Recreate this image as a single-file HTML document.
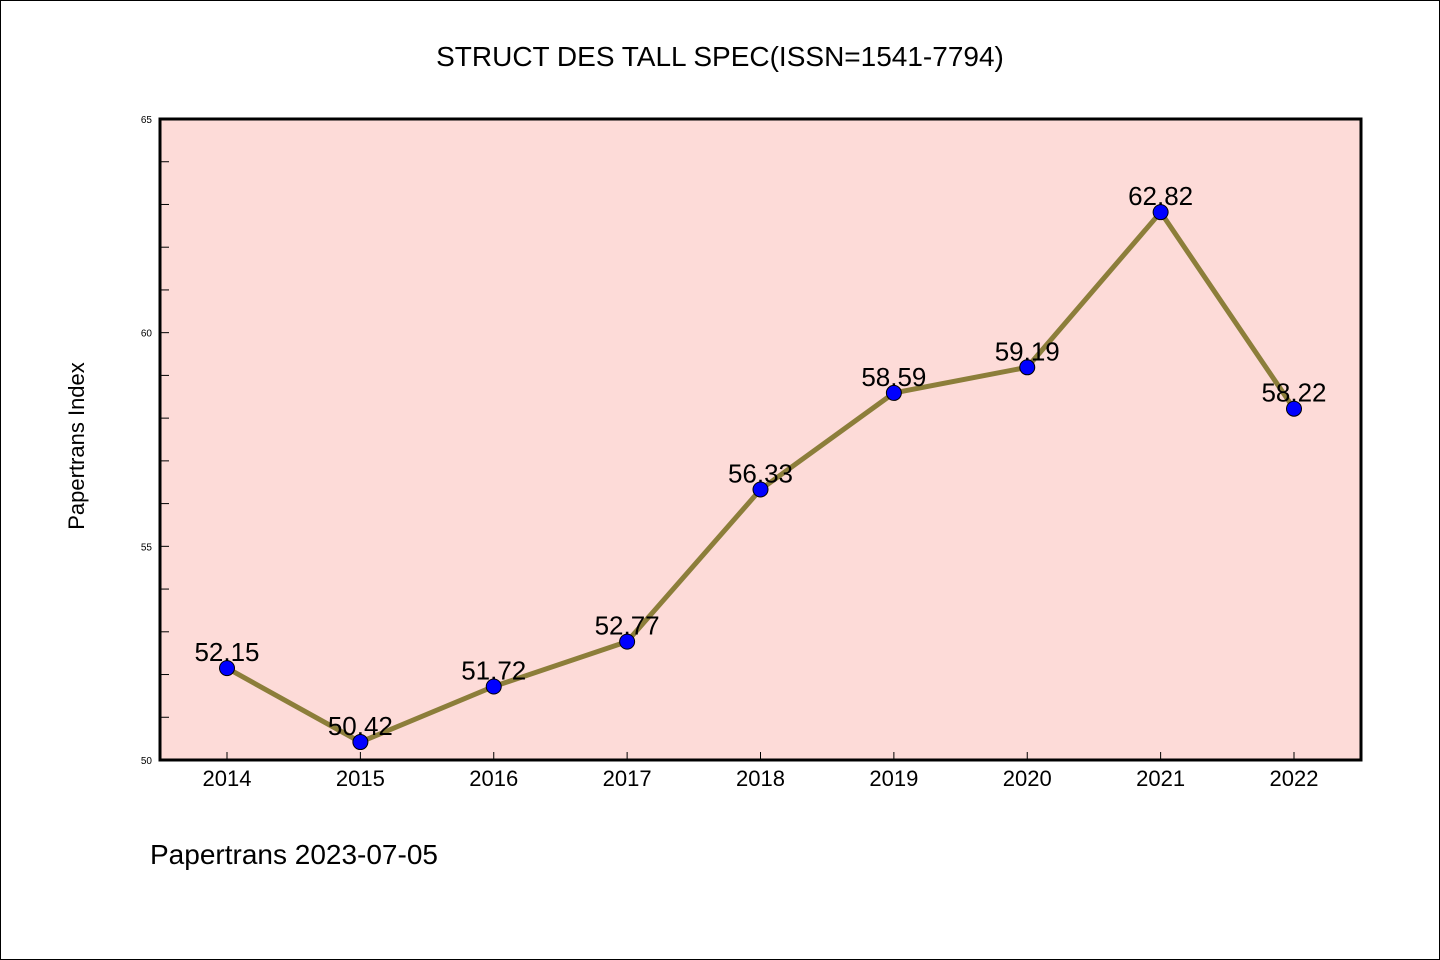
<!DOCTYPE html>
<html><head><meta charset="utf-8"><style>
html,body{margin:0;padding:0;background:#fff}
svg{display:block;font-family:"WenQuanYi Zen Hei","Liberation Sans",sans-serif}
</style></head><body>
<svg id="chart" width="1440" height="960" xmlns="http://www.w3.org/2000/svg">
<rect x="0.5" y="0.5" width="1439" height="959" fill="#fff" stroke="#000" stroke-width="1"/>
<text x="720" y="66" font-size="28" text-anchor="middle">STRUCT DES TALL SPEC(ISSN=1541-7794)</text>
<rect x="160" y="119" width="1201" height="641" fill="#fddbd8"/>
<g id="axes"></g>
<g id="series"></g>
<rect x="160" y="119" width="1201" height="641" fill="none" stroke="#000" stroke-width="3"/>
<text transform="translate(84,446) rotate(-90)" font-size="22" text-anchor="middle">Papertrans Index</text>
<text x="150" y="864" font-size="28">Papertrans 2023-07-05</text>
</svg>
<script>
const categories=["2014","2015","2016","2017","2018","2019","2020","2021","2022"];
const values=[52.15,50.42,51.72,52.77,56.33,58.59,59.19,62.82,58.22];
const valueLabels=["52.15","50.42","51.72","52.77","56.33","58.59","59.19","62.82","58.22"];
const yTicks=[50,55,60,65];
const yMin=50,yMax=65;
const NS="http://www.w3.org/2000/svg";
const L=160,R=1361,T=119,B=760;
function xs(i){return 227+i*(1294-227)/(categories.length-1);}
function ys(v){return B-(v-yMin)/(yMax-yMin)*(B-T);}
function mk(tag,attrs,parent){const e=document.createElementNS(NS,tag);for(const k in attrs)e.setAttribute(k,attrs[k]);parent.appendChild(e);return e;}
const ax=document.getElementById('axes');
for(let v=yMin;v<=yMax;v++){
  const t=mk('line',{x1:L,x2:L+9,y1:ys(v),y2:ys(v),stroke:'#000','stroke-width':1},ax);
  
  
}
yTicks.forEach(v=>{
  const t=mk('text',{x:L-8,y:ys(v)+4,'font-size':10,'text-anchor':'end'},ax);
  t.textContent=v;
  
  
});
categories.forEach((c,i)=>{
  const t=mk('line',{x1:xs(i),x2:xs(i),y1:B,y2:B-8,stroke:'#000','stroke-width':1},ax);
  
  
  const l=mk('text',{x:xs(i),y:B+26,'font-size':22,'text-anchor':'middle'},ax);
  l.textContent=c;
  
  
});
const sg=document.getElementById('series');
const pl=mk('polyline',{points:values.map((v,i)=>xs(i)+','+ys(v)).join(' '),fill:'none',stroke:'#8c7e3a','stroke-width':5},sg);


values.forEach((v,i)=>{
  const c=mk('circle',{cx:xs(i),cy:ys(v),r:7.5,fill:'#0000ff',stroke:'#000','stroke-width':1},sg);
  
  
});
values.forEach((v,i)=>{
  const t=mk('text',{x:xs(i),y:ys(v)-7,'font-size':26,'text-anchor':'middle'},sg);
  t.textContent=valueLabels[i];
  
  
});
</script>
</body></html>
